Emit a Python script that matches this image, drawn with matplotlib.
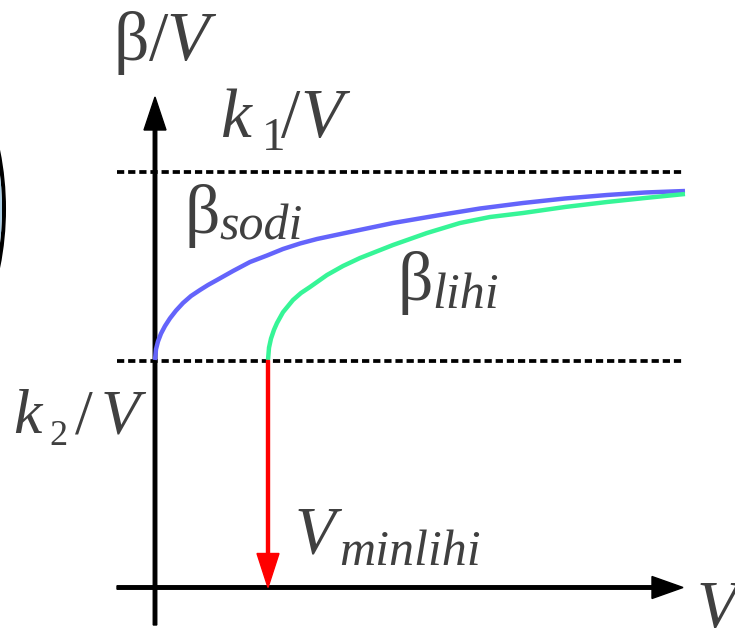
import matplotlib
matplotlib.use("Agg")
import matplotlib.pyplot as plt
from matplotlib import font_manager
from matplotlib.font_manager import FontProperties
from matplotlib.patches import Circle

plt.rcParams["font.family"] = ["Liberation Serif", "DejaVu Serif"]

# Schematic: sorption rate per volume vs. volume, two branches
V_sodi = [0.00, 0.01, 0.03, 0.06, 0.10, 0.15, 0.21, 0.28, 0.36, 0.45,
          0.53, 0.62, 0.78, 0.95, 1.12, 1.28, 1.45, 1.62, 1.95, 2.38,
          2.85, 3.25, 3.68, 4.10, 4.52, 4.90, 5.30]
beta_sodi = [2.275, 2.383, 2.461, 2.539, 2.615, 2.692, 2.769, 2.845, 2.915,
             2.975, 3.025, 3.075, 3.165, 3.255, 3.320, 3.385, 3.440, 3.485,
             3.555, 3.645, 3.725, 3.790, 3.845, 3.890, 3.925, 3.950, 3.965]

V_lihi = [1.13, 1.14, 1.16, 1.19, 1.22, 1.28, 1.38, 1.46, 1.55, 1.72,
          1.88, 2.05, 2.38, 2.72, 3.05, 3.35, 3.68, 4.10, 4.52, 4.90, 5.30]
beta_lihi = [2.275, 2.398, 2.489, 2.577, 2.645, 2.753, 2.875, 2.945, 3.005,
             3.125, 3.215, 3.295, 3.425, 3.545, 3.645, 3.705, 3.745, 3.805,
             3.855, 3.895, 3.935]

k1_level = 4.16
k2_level = 2.27
V_min_lihi = 1.13

# Times-like serif faces, loaded straight from their files
UPRIGHT = font_manager.findfont(FontProperties(family="Liberation Serif", style="normal"))
ITALIC = font_manager.findfont(FontProperties(family="Liberation Serif", style="italic"))

W, H = 735, 628
fig = plt.figure(figsize=(W / 100, H / 100), dpi=100)
ax = fig.add_axes([0, 0, 1, 1])
ax.set_xlim(-1.55, 5.80)
ax.set_ylim(-0.405, 5.875)
ax.set_aspect("equal")
ax.axis("off")

# partial circle at the left edge
ax.add_patch(Circle((-4.47, 3.785), 2.96, fill=False, ec="black", lw=2.9, zorder=1))
ax.add_patch(Circle((-4.47, 3.785), 2.93, fill=False, ec="#a9cde4", lw=1.4, zorder=1))

# reference levels
for lvl in (k1_level, k2_level):
    ax.plot([-0.38, 5.30], [lvl, lvl], color="black", lw=2.7,
            dashes=(1.93, 1.04), dash_capstyle="butt", zorder=2)

# axes with arrowheads
ax.arrow(0, -0.375, 0, 5.28, width=0.035, head_width=0.22, head_length=0.33,
         length_includes_head=True, color="black", zorder=3)
ax.arrow(-0.38, 0, 5.66, 0, width=0.035, head_width=0.22, head_length=0.31,
         length_includes_head=True, color="black", zorder=3)

# rate curves
ax.plot(V_sodi, beta_sodi, color="#6464fb", lw=3.2, solid_capstyle="butt",
        solid_joinstyle="round", zorder=4)
ax.plot(V_lihi, beta_lihi, color="#36f597", lw=3.2, solid_capstyle="butt",
        solid_joinstyle="round", zorder=4)

# minimum volume marker
ax.arrow(V_min_lihi, k2_level, 0, -k2_level, width=0.03, head_width=0.22,
         head_length=0.34, length_includes_head=True, color="#ff0000", zorder=5)

TXT = "#404040"


def put(px, py, s, size, italic=False):
    ax.text(px / W, 1 - py / H, s, transform=fig.transFigure,
            fontproperties=FontProperties(fname=ITALIC if italic else UPRIGHT, size=size),
            color=TXT, ha="left", va="baseline", zorder=6, clip_on=False)


put(113, 60, "β", 50)
put(149, 60, "/", 50)
put(166, 60, "V", 50, True)

put(221, 137, "k", 50, True)
put(262, 150, "1", 34)
put(281, 137, "/", 50)
put(300, 137, "V", 50, True)

put(13, 433, "k", 46, True)
put(49, 445, "2", 26)
put(75, 433, "/", 46)
put(101, 433, "V", 46, True)

put(184, 233, "β", 50)
put(219, 240, "sodi", 36, True)

put(397, 300, "β", 50)
put(432, 308, "lihi", 36, True)

put(295, 552, "V", 48, True)
put(339, 565, "minlihi", 36, True)

put(697, 627, "V", 48, True)

fig.savefig("out.png", dpi=100)
